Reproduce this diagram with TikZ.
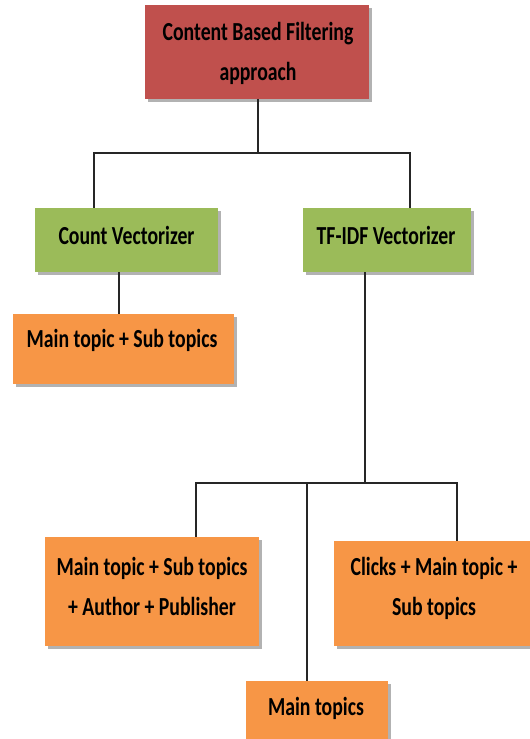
\documentclass[tikz,border=0pt]{standalone}
\usepackage{fontspec}
\setmainfont{Carlito}[FakeStretch=0.76]
\usetikzlibrary{shadows}
\definecolor{cred}{HTML}{C0504D}
\definecolor{cgreen}{HTML}{9BBB59}
\definecolor{corange}{HTML}{F79646}
\tikzset{
  boxshape/.style={rectangle, draw=none, inner sep=0pt,
    drop shadow={shadow xshift=3pt, shadow yshift=-3pt, fill=black, opacity=0.3}},
  btxt/.style={align=center, inner sep=0pt, font=\fontsize{26}{40}\selectfont\bfseries},
  conn/.style={line width=1.2pt, black!85}
}
\begin{document}
\begin{tikzpicture}[x=1pt, y=-1pt]
\useasboundingbox (0,0) rectangle (530,739);
% boxes
\node[boxshape, fill=cred, minimum width=224, minimum height=94] (top) at (257,52) {};
\node[btxt] (topt) at (258,53) {Content Based Filtering\\approach};
\node[boxshape, fill=cgreen, minimum width=183, minimum height=64] (cv) at (126.5,240) {};
\node[btxt] (cvt) at (126.5,235) {Count Vectorizer};
\node[boxshape, fill=cgreen, minimum width=168, minimum height=64] (tf) at (387,240) {};
\node[btxt] (tft) at (386,235) {TF-IDF Vectorizer};
\node[boxshape, fill=corange, minimum width=221, minimum height=70] (o1) at (123.5,349) {};
\node[btxt] (o1t) at (122,340) {Main topic + Sub topics};
\node[boxshape, fill=corange, minimum width=214, minimum height=109] (lb) at (152,591.5) {};
\node[btxt] (lbt) at (152,586) {Main topic + Sub topics\\+ Author + Publisher};
\node[boxshape, fill=corange, minimum width=200, minimum height=105] (rb) at (434,593.5) {};
\node[btxt] (rbt) at (434,588) {Clicks + Main topic +\\Sub topics};
\node[boxshape, fill=corange, minimum width=142, minimum height=62] (mt) at (317,712) {};
\node[btxt] (mtt) at (316,708) {Main topics};
% junctions
\coordinate (j0) at (258,153);
\coordinate (j1l) at (94,153);
\coordinate (j1r) at (410,153);
\coordinate (c1) at (119,0);
\coordinate (t1) at (365,483);
\coordinate (j2l) at (196,483);
\coordinate (j2m) at (307,483);
\coordinate (j2r) at (457,483);
% connectors
\draw[conn] (top.south -| j0) -- (j0);
\draw[conn] (j1l |- cv.north) -- (j1l) -- (j1r) -- (j1r |- tf.north);
\draw[conn] (cv.south -| c1) -- (o1.north -| c1);
\draw[conn] (tf.south -| t1) -- (t1);
\draw[conn] (j2l |- lb.north) -- (j2l) -- (j2r) -- (j2r |- rb.north);
\draw[conn] (j2m) -- (mt.north -| j2m);
\end{tikzpicture}
\end{document}
